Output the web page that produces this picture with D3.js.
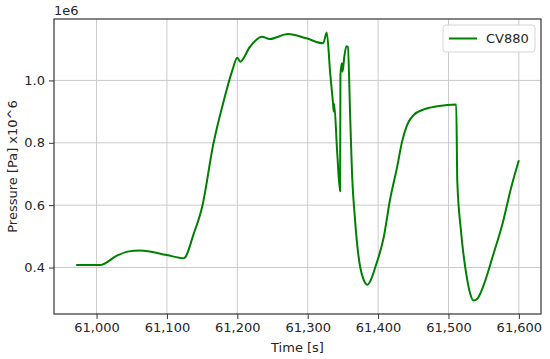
<!DOCTYPE html>
<html>
<head>
<meta charset="utf-8">
<script src="https://cdn.jsdelivr.net/npm/d3@7"></script>
<style>
  body { margin: 0; background: #fff; }
  svg text { font-family: "DejaVu Sans", sans-serif; fill: #262626; }
</style>
</head>
<body>
<div id="container"></div>
<script>
// time [s] and pressure [Pa]
const time = [60971, 61005, 61029, 61044, 61062, 61100, 61124, 61138, 61150, 61166,
  61181, 61193, 61200, 61204, 61218, 61235, 61246, 61272, 61298, 61322,
  61327, 61332, 61336, 61337, 61337.5, 61342, 61346, 61346.5, 61348.5, 61349.5,
  61352, 61355, 61357, 61360.5, 61363, 61367, 61372, 61378, 61385, 61390,
  61396, 61408, 61417, 61427, 61434, 61441, 61450, 61465, 61484,
  61511, 61512.5, 61517.7, 61526, 61531, 61535.6, 61541, 61547, 61564, 61578,
  61588, 61600];
const pressure = [408000, 408000, 438000, 451000, 455000, 440000, 430000, 508000, 594000, 797000,
  937000, 1033000, 1073000, 1060000, 1108000, 1140000, 1133000, 1149000, 1135000, 1119000,
  1154000, 1022000, 926000, 900000, 925000, 765000, 645000, 1017000, 1055000, 1028000,
  1076000, 1110000, 1108000, 872000, 700000, 560000, 440000, 370000, 345000, 362000,
  401000, 497000, 618000, 722000, 803000, 856000, 888000, 907000, 917000,
  923000, 679000, 519000, 369000, 315000, 294000, 300000, 326000, 444000, 551000,
  647000, 744000];
const seriesName = "CV880";
const xTicks = [61000, 61100, 61200, 61300, 61400, 61500, 61600];
const yTicks = [400000, 600000, 800000, 1000000];

const width = 550, height = 359;
const margin = { top: 19, right: 9, bottom: 45, left: 54 };

const data = time.map((t, i) => ({ t: t, p: pressure[i] }));

// matplotlib style 5% padding
const xPad = (d3.max(time) - d3.min(time)) * 0.05;
const yPad = (d3.max(pressure) - d3.min(pressure)) * 0.05;
const x = d3.scaleLinear()
  .domain([d3.min(time) - xPad, d3.max(time) + xPad])
  .range([margin.left, width - margin.right]);
const y = d3.scaleLinear()
  .domain([d3.min(pressure) - yPad, d3.max(pressure) + yPad])
  .range([height - margin.bottom, margin.top]);

const svg = d3.select("#container").append("svg")
  .attr("width", width)
  .attr("height", height);

// grid
svg.append("g").selectAll("line").data(xTicks).join("line")
  .attr("x1", d => x(d)).attr("x2", d => x(d))
  .attr("y1", margin.top).attr("y2", height - margin.bottom)
  .attr("stroke", "#cbcbcb").attr("stroke-width", 1);
svg.append("g").selectAll("line").data(yTicks).join("line")
  .attr("x1", margin.left).attr("x2", width - margin.right)
  .attr("y1", d => y(d)).attr("y2", d => y(d))
  .attr("stroke", "#cbcbcb").attr("stroke-width", 1);

// axes
const xAxis = svg.append("g")
  .attr("transform", `translate(0,${height - margin.bottom})`)
  .call(d3.axisBottom(x).tickValues(xTicks).tickFormat(d3.format(",")).tickSize(5).tickPadding(4).tickSizeOuter(0));
const yAxis = svg.append("g")
  .attr("transform", `translate(${margin.left},0)`)
  .call(d3.axisLeft(y).tickValues(yTicks).tickFormat(d => (d / 1e6).toFixed(1)).tickSize(5).tickPadding(4).tickSizeOuter(0));
[xAxis, yAxis].forEach(a => {
  a.selectAll("text").style("font-size", "13px").attr("fill", "#262626");
  a.selectAll("line").attr("stroke", "#333");
  a.select(".domain").remove();
});

// frame
svg.append("rect")
  .attr("x", margin.left).attr("y", margin.top)
  .attr("width", width - margin.left - margin.right)
  .attr("height", height - margin.top - margin.bottom)
  .attr("fill", "none").attr("stroke", "#333").attr("stroke-width", 1.2);

// the line
const line = d3.line()
  .x(d => x(d.t))
  .y(d => y(d.p))
  .curve(d3.curveMonotoneX);
svg.append("path")
  .datum(data)
  .attr("fill", "none")
  .attr("stroke", "#008000")
  .attr("stroke-width", 2)
  .attr("stroke-linejoin", "round")
  .attr("d", line);

// labels
svg.append("text")
  .attr("x", (margin.left + width - margin.right) / 2)
  .attr("y", 352)
  .attr("text-anchor", "middle")
  .style("font-size", "13px")
  .text("Time [s]");
svg.append("text")
  .attr("transform", `translate(17,${(margin.top + height - margin.bottom) / 2}) rotate(-90)`)
  .attr("text-anchor", "middle")
  .style("font-size", "13px")
  .text("Pressure [Pa] x10^6");
svg.append("text")
  .attr("x", margin.left)
  .attr("y", 15)
  .style("font-size", "13px")
  .text("1e6");

// legend
const legend = svg.append("g").attr("transform", `translate(443,25)`);
legend.append("rect")
  .attr("width", 92).attr("height", 27).attr("rx", 3)
  .attr("fill", "#fff").attr("fill-opacity", 0.85)
  .attr("stroke", "#d6d6d6");
legend.append("line")
  .attr("x1", 6).attr("x2", 34).attr("y1", 13.5).attr("y2", 13.5)
  .attr("stroke", "#008000").attr("stroke-width", 2);
legend.append("text")
  .attr("x", 43).attr("y", 18)
  .style("font-size", "13px")
  .text(seriesName);
</script>
</body>
</html>
